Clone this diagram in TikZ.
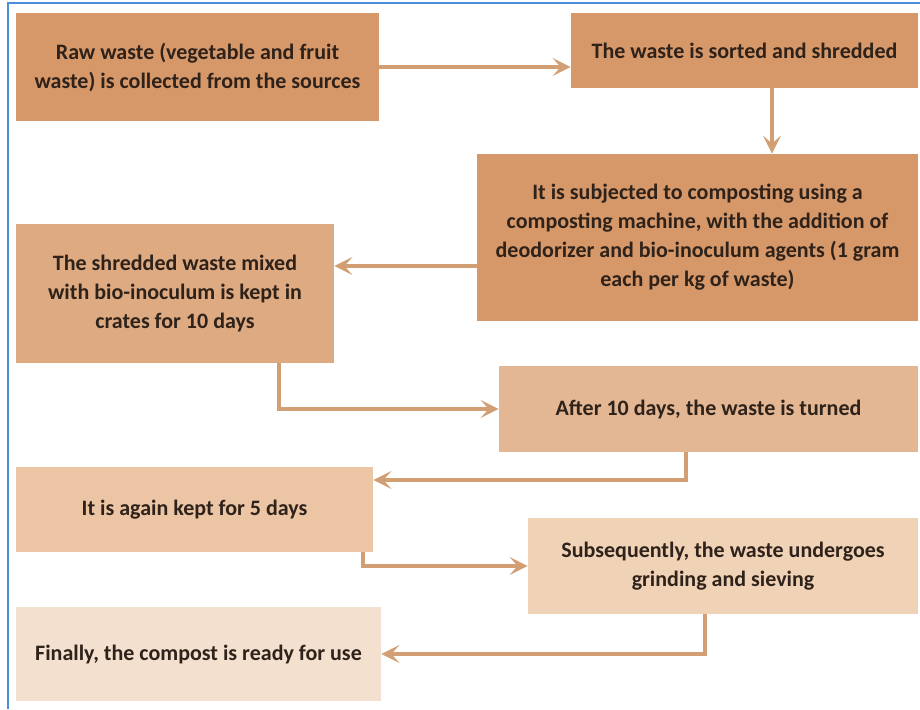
\documentclass[tikz,border=0pt]{standalone}
\usepackage{fontspec}
\setmainfont{Carlito}
\usetikzlibrary{arrows.meta}
\definecolor{cpa}{HTML}{D69869}
\definecolor{cpb}{HTML}{DEAA81}
\definecolor{cpc}{HTML}{E3B793}
\definecolor{cpd}{HTML}{EBC5A4}
\definecolor{cpe}{HTML}{F0D2B6}
\definecolor{cpf}{HTML}{F3E0CE}
\definecolor{cparrow}{HTML}{D29E74}
\definecolor{cptext}{HTML}{2E221A}
\definecolor{cpframe}{HTML}{4A90D9}
\begin{document}
\begin{tikzpicture}[x=0.5pt,y=-0.5pt]
			\tikzset{cpbox/.style={rectangle, inner sep=0pt, align=center,
						text=cptext, font=\bfseries\fontsize{11}{14.5}\selectfont}}
			\tikzset{cpflow/.style={draw=cparrow, line width=2pt,
						-{Stealth[length=9pt, width=9pt, inset=4pt]}}}

			\useasboundingbox (0,0) rectangle (920,709);
			\draw[cpframe, line width=1.2pt] (8,709) -- (8,3) -- (920,3);

			\node[cpbox, fill=cpa, minimum width=181.5pt, minimum height=54pt] (raw) at (197.5,67)
				{Raw waste (vegetable and fruit\\waste) is collected from the sources};
			\node[cpbox, fill=cpa, minimum width=173.5pt, minimum height=37.5pt] (sort) at (744.5,50.5)
				{The waste is sorted and shredded};
			\node[cpbox, fill=cpa, minimum width=220.5pt, minimum height=83.5pt] (comp) at (697.5,237.5)
				{It is subjected to composting using a\\composting machine, with the addition of\\deodorizer and bio-inoculum agents (1 gram\\each per kg of waste)};
			\node[cpbox, fill=cpb, minimum width=159pt, minimum height=69.5pt] (mix) at (175,293.5)
				{The shredded waste mixed\\with bio-inoculum is kept in\\crates for 10 days};
			\node[cpbox, fill=cpc, minimum width=209.5pt, minimum height=43pt] (turn) at (708.5,409)
				{After 10 days, the waste is turned};
			\node[cpbox, fill=cpd, minimum width=178.5pt, minimum height=42.5pt] (again) at (194.5,509.5)
				{It is again kept for 5 days};
			\node[cpbox, fill=cpe, minimum width=195pt, minimum height=48pt] (grind) at (723,566)
				{Subsequently, the waste undergoes\\grinding and sieving};
			\node[cpbox, fill=cpf, minimum width=182.5pt, minimum height=47pt] (ready) at (198.5,654)
				{Finally, the compost is ready for use};

			\coordinate (b1) at (772,88);
			\coordinate (c1) at (477,266);
			\coordinate (d1) at (279,363);
			\coordinate (e1) at (686,452);
			\coordinate (e2) at (686,480);
			\coordinate (f1) at (363,552);
			\coordinate (g1) at (705,614);

			\draw[cpflow] (raw.east) -- (raw.east -| sort.west);
			\draw[cpflow] (b1) -- (b1 |- comp.north);
			\draw[cpflow] (c1) -- (c1 -| mix.east);
			\draw[cpflow] (d1) |- (turn.west);
			\draw[cpflow] (e1) -- (e2) -- (e2 -| again.east);
			\draw[cpflow] (f1) |- (grind.west);
			\draw[cpflow] (g1) |- (ready.east);
		\end{tikzpicture}
\end{document}
